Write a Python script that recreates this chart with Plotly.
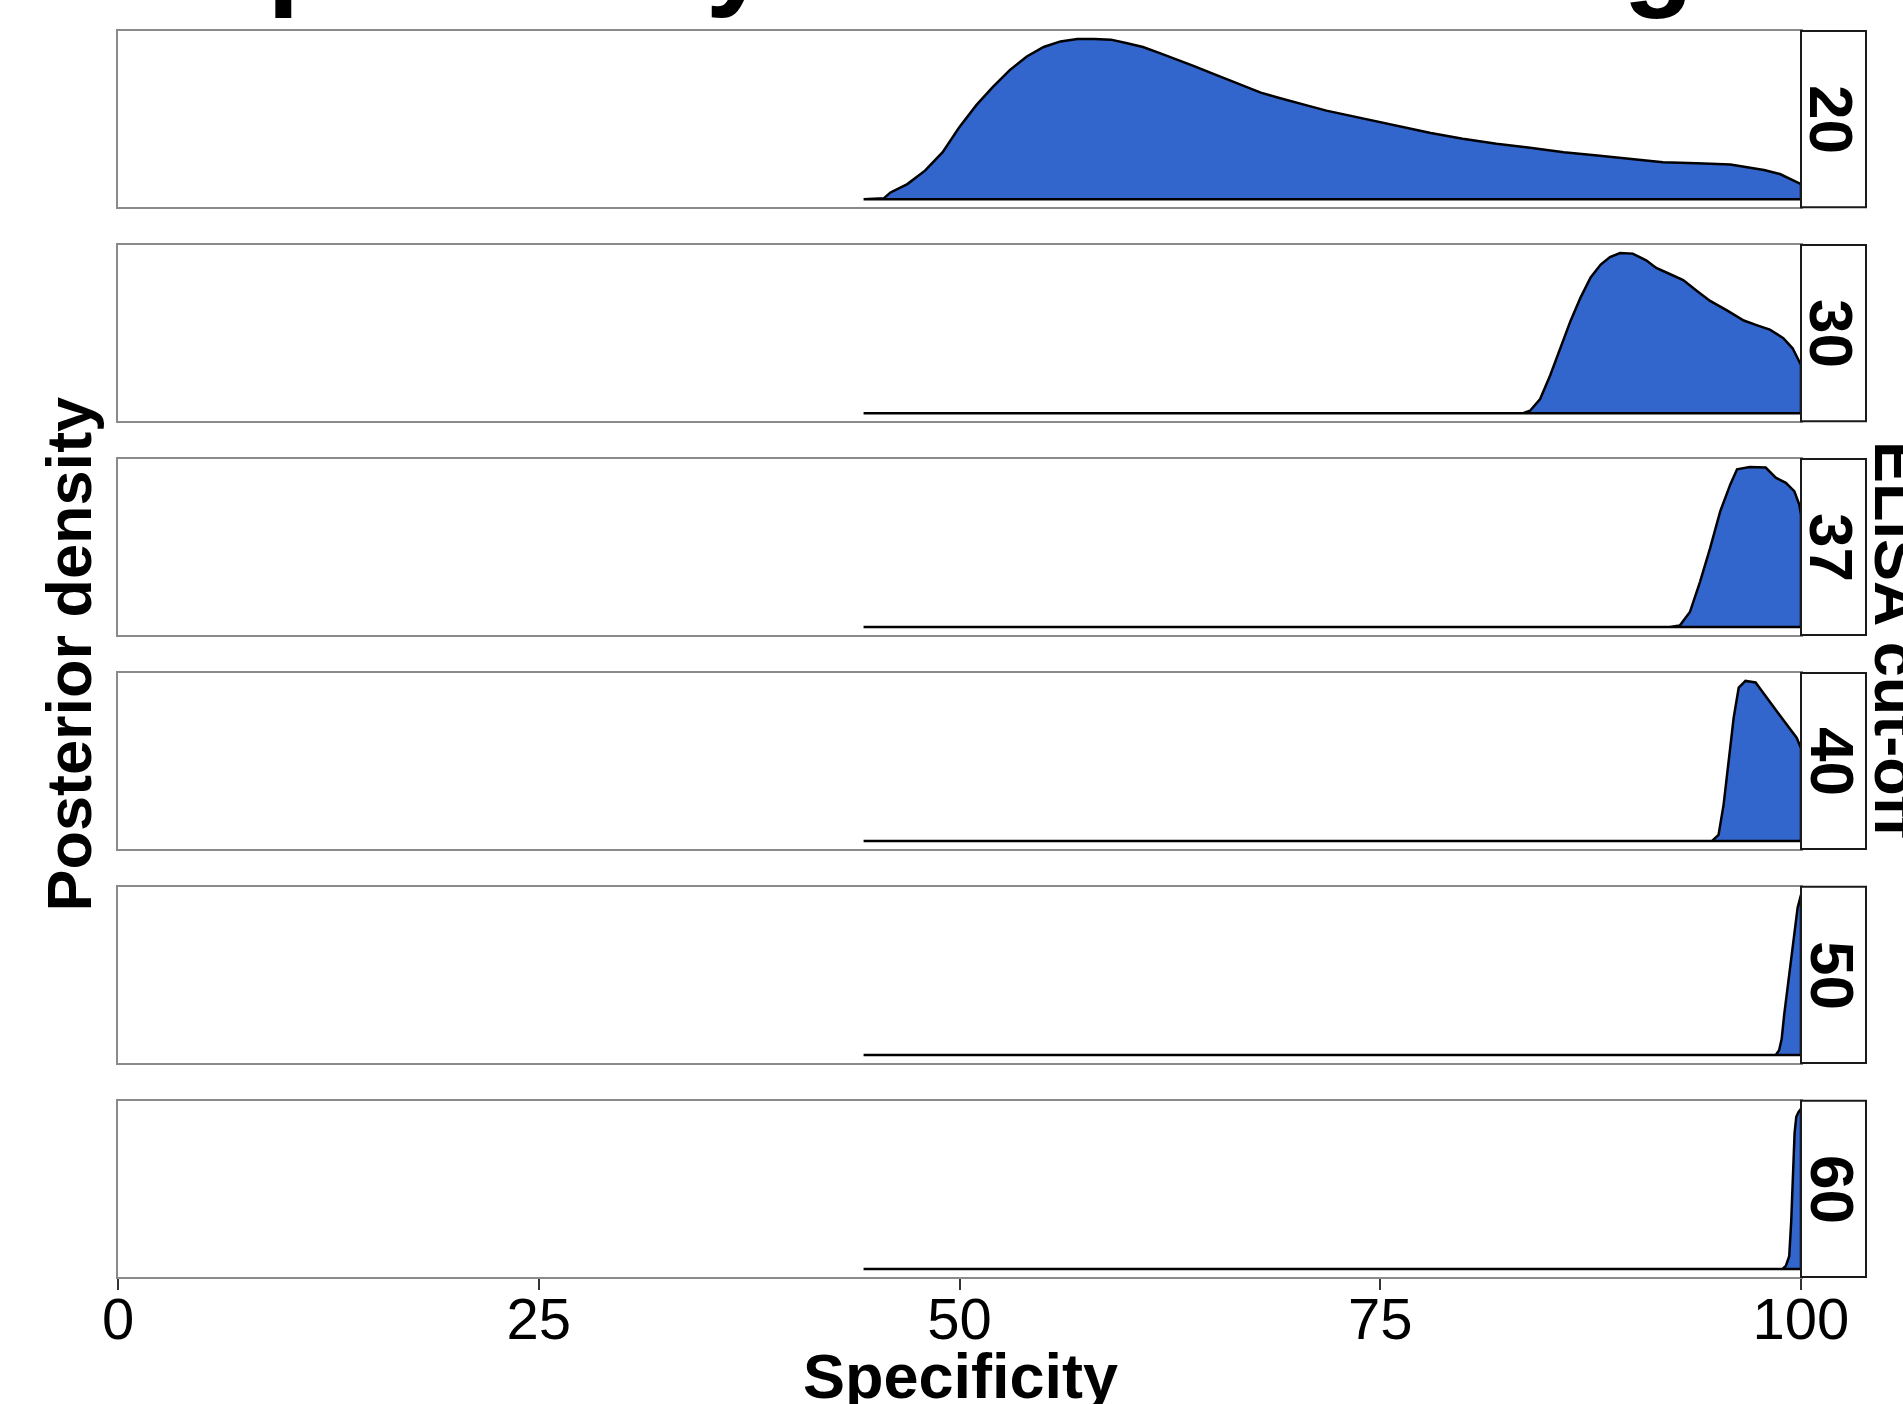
import plotly.graph_objects as go

# ---------------- data ----------------
cutoffs = ["20", "30", "37", "40", "50", "60"]
x_ticks = [0, 25, 50, 75, 100]
x_tick_labels = ["0", "25", "50", "75", "100"]

spec_20 = [44.3, 45.5, 45.9, 46.9, 47.95, 49.0, 50.0, 51.0, 52.0, 53.0, 54.0, 55.0, 56.0,
           57.0, 58.0, 59.0, 59.9, 60.9, 61.9, 62.9, 63.9, 64.9, 65.9, 66.9, 67.9, 68.9,
           69.8, 70.8, 71.8, 74.0, 76.0, 78.0, 79.9, 81.9, 83.9, 85.9, 87.9, 89.8, 91.8,
           93.8, 95.8, 97.8, 98.75, 99.35, 100]
dens_20 = [0, 0.005, 0.042, 0.094, 0.178, 0.293, 0.451, 0.587, 0.702, 0.807, 0.891, 0.950, 0.985,
           1.0, 1.0, 0.996, 0.975, 0.950, 0.912, 0.874, 0.832, 0.790, 0.748, 0.702, 0.665, 0.635,
           0.608, 0.581, 0.553, 0.503, 0.455, 0.413, 0.377, 0.346, 0.321, 0.293, 0.273, 0.252, 0.231,
           0.224, 0.216, 0.182, 0.157, 0.126, 0.094]

spec_30 = [44.3, 83.5, 83.9, 84.5, 85.1, 85.7, 86.3, 86.9, 87.5, 88.1, 88.65, 89.25, 90.0,
           90.8, 91.4, 92.2, 93.0, 93.8, 94.6, 95.6, 96.6, 97.4, 98.15, 98.95, 99.5, 100]
dens_30 = [0, 0, 0.015, 0.088, 0.236, 0.404, 0.573, 0.72, 0.846, 0.926, 0.973, 0.998, 0.994,
           0.952, 0.905, 0.867, 0.829, 0.762, 0.699, 0.64, 0.577, 0.547, 0.52, 0.467, 0.404, 0.30]

spec_37 = [44.3, 92.2, 92.8, 93.4, 94.0, 94.6, 95.2, 95.8, 96.2, 96.95, 97.9, 98.5, 99.1, 99.6, 99.9, 100]
dens_37 = [0, 0, 0.01, 0.094, 0.283, 0.493, 0.723, 0.891, 0.985, 1.0, 0.996, 0.933, 0.901, 0.849, 0.765, 0.70]

spec_40 = [44.3, 94.7, 95.1, 95.4, 95.7, 96.0, 96.3, 96.7, 97.3, 97.95, 98.55, 99.15, 99.75, 100]
dens_40 = [0, 0, 0.038, 0.226, 0.498, 0.77, 0.958, 1.0, 0.99, 0.895, 0.812, 0.728, 0.644, 0.58]

spec_50 = [44.3, 98.5, 98.7, 98.85, 99.0, 99.2, 99.4, 99.6, 99.8, 99.95, 100]
dens_50 = [0, 0, 0.03, 0.10, 0.25, 0.42, 0.60, 0.76, 0.92, 0.98, 1.0]

spec_60 = [44.3, 98.9, 99.1, 99.3, 99.42, 99.52, 99.62, 99.72, 99.85, 100]
dens_60 = [0, 0, 0.02, 0.08, 0.3, 0.6, 0.85, 0.95, 0.98, 1.0]

series_x = [spec_20, spec_30, spec_37, spec_40, spec_50, spec_60]
series_y = [dens_20, dens_30, dens_37, dens_40, dens_50, dens_60]

title_text = "Specificity of ELISA testing"
x_title = "Specificity"
y_title = "Posterior density"
strip_title = "ELISA cut-off"

# ---------------- layout geometry ----------------
W, H = 1903, 1404
ML, MR, MT, MB = 118, 37, 31, 127
PW = W - ML - MR
PH = H - MT - MB
panel_right = (1801 - ML) / PW
gap = 37.8
panel_h = (PH - 5 * gap) / 6

FONT = "Liberation Sans, Arial, Helvetica, sans-serif"
FILL = "#3366cc"
BORDER = "#8a8a8a"

fig = go.Figure()
layout = dict(
    width=W, height=H, autosize=False,
    margin=dict(l=ML, r=MR, t=MT, b=MB, pad=0, autoexpand=False),
    paper_bgcolor="white", plot_bgcolor="white",
    showlegend=False,
    font=dict(family=FONT, color="black"),
)
shapes = []
annotations = []

for i, (xs, ys) in enumerate(zip(series_x, series_y)):
    n = i + 1
    top = i * (panel_h + gap)
    dom = [1 - (top + panel_h) / PH, 1 - top / PH]
    xa = "x" if n == 1 else f"x{n}"
    ya = "y" if n == 1 else f"y{n}"
    ymax = max(ys)
    # closed polygon (upper density curve + baseline)
    px = list(xs) + [xs[-1], xs[0], xs[0]]
    py = list(ys) + [0, 0, ys[0]]
    fig.add_trace(go.Scatter(x=px, y=py, xaxis=xa, yaxis=ya, mode="lines",
                             fill="toself", fillcolor=FILL,
                             line=dict(color="black", width=2.5), hoverinfo="skip"))
    last = (n == 6)
    layout[f"xaxis{'' if n == 1 else n}"] = dict(
        domain=[0, panel_right], range=[0, 100], anchor=ya, automargin=False,
        showline=True, mirror=True, linecolor=BORDER, linewidth=2,
        showgrid=False, zeroline=False,
        ticks="outside" if last else "", ticklen=11, tickwidth=2, tickcolor="#333333",
        tickvals=x_ticks, ticktext=x_tick_labels,
        showticklabels=last, tickfont=dict(size=58, color="black", family=FONT),
        ticklabelstandoff=-21,
    )
    layout[f"yaxis{'' if n == 1 else n}"] = dict(
        domain=dom, range=[-0.05 * ymax, 1.05 * ymax], anchor=xa, automargin=False,
        showline=True, mirror=True, linecolor=BORDER, linewidth=2,
        showgrid=False, zeroline=False, ticks="", showticklabels=False,
    )
    shapes.append(dict(type="rect", xref="paper", yref="paper",
                       x0=panel_right, x1=1.0, y0=dom[0], y1=dom[1],
                       fillcolor="white", line=dict(color="#1a1a1a", width=2), layer="above"))
    annotations.append(dict(xref="paper", yref="paper",
                            x=(1832 - ML) / PW, y=(dom[0] + dom[1]) / 2,
                            text=f"<b>{cutoffs[i]}</b>", textangle=90, showarrow=False,
                            xanchor="center", yanchor="middle",
                            font=dict(size=62, color="black", family=FONT)))

annotations.append(dict(xref="paper", yref="paper", x=(942 - ML) / PW, y=1 + (MT - 21) / PH,
                        text=f"<b>{title_text}</b>", showarrow=False,
                        xanchor="center", yanchor="bottom",
                        font=dict(size=116, color="black", family=FONT)))
annotations.append(dict(xref="paper", yref="paper", x=(960 - ML) / PW, y=(1277 - 1339) / PH,
                        text=f"<b>{x_title}</b>", showarrow=False,
                        xanchor="center", yanchor="top",
                        font=dict(size=63, color="black", family=FONT)))
annotations.append(dict(xref="paper", yref="paper", x=(68 - ML) / PW, y=(1277 - 654.5) / PH,
                        text=f"<b>{y_title}</b>", showarrow=False, textangle=-90,
                        xanchor="center", yanchor="middle",
                        font=dict(size=63, color="black", family=FONT)))
annotations.append(dict(xref="paper", yref="paper", x=(1897 - ML) / PW, y=(1277 - 640) / PH,
                        text=f"<b>{strip_title}</b>", showarrow=False, textangle=90,
                        xanchor="center", yanchor="middle",
                        font=dict(size=63, color="black", family=FONT)))

layout["shapes"] = shapes
layout["annotations"] = annotations
fig.update_layout(**layout)
fig.write_html(
    "out.html",
    config={"responsive": False, "displayModeBar": False},
    post_script="document.body.style.margin='0';document.body.style.overflow='hidden';",
)
